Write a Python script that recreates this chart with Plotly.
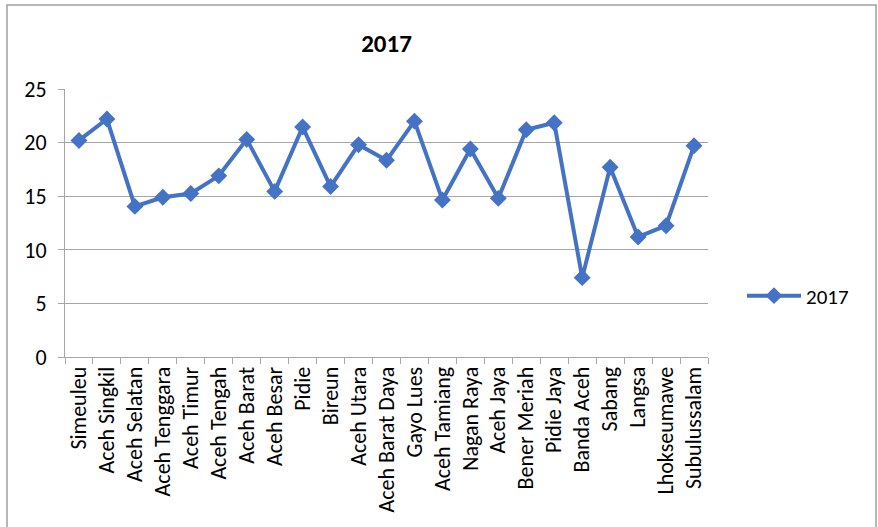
import plotly.graph_objects as go

# Kabupaten/kota in Aceh and their 2017 values
regions = [
    "Simeuleu", "Aceh Singkil", "Aceh Selatan", "Aceh Tenggara", "Aceh Timur",
    "Aceh Tengah", "Aceh Barat", "Aceh Besar", "Pidie", "Bireun", "Aceh Utara",
    "Aceh Barat Daya", "Gayo Lues", "Aceh Tamiang", "Nagan Raya", "Aceh Jaya",
    "Bener Meriah", "Pidie Jaya", "Banda Aceh", "Sabang", "Langsa",
    "Lhokseumawe", "Subulussalam",
]
values_2017 = [
    20.2, 22.2, 14.05, 14.9, 15.25,
    16.9, 20.3, 15.45, 21.45, 15.9, 19.8,
    18.35, 22.0, 14.65, 19.4, 14.8,
    21.2, 21.85, 7.4, 17.7, 11.2,
    12.25, 19.7,
]
y_ticks = [0, 5, 10, 15, 20, 25]

FONT = "Carlito, Lato, sans-serif"
BLUE = "#4472C4"
GRID = "#a6a6a6"

fig = go.Figure()
fig.add_trace(go.Scatter(
    x=regions, y=values_2017, name="2017", mode="lines+markers",
    line=dict(color=BLUE, width=4),
    marker=dict(symbol="diamond", size=13, color=BLUE),
))

W, H = 878, 527
L, R, T, B = 65, 170, 89, 170
pw, ph = W - L - R, H - T - B

def px(xp):
    return (xp - L) / pw

def py(yp):
    return (H - B - yp) / ph

fig.update_layout(
    width=W, height=H,
    margin=dict(l=L, r=R, t=T, b=B),
    paper_bgcolor="white", plot_bgcolor="white",
    font=dict(family=FONT, color="black", size=22),
    title=dict(text="<b>2017</b>", x=0.5, xref="paper", xanchor="center",
               y=1 - 43 / H, yanchor="middle", font=dict(size=25, family=FONT)),
    showlegend=True,
    legend=dict(x=px(742), y=py(296), xanchor="left", yanchor="middle",
                itemwidth=54, font=dict(size=21, family=FONT),
                bgcolor="rgba(0,0,0,0)"),
    shapes=[dict(type="rect", xref="paper", yref="paper",
                 x0=px(7), x1=px(876), y0=py(540), y1=py(5),
                 line=dict(color="#a0a0a0", width=1.5), layer="below")],
)

fig.update_xaxes(
    type="category", range=[-0.5, len(regions) - 0.5],
    tickangle=-90, tickson="boundaries", ticks="outside", ticklen=6,
    tickcolor=GRID, showline=True, linecolor=GRID, linewidth=1,
    showgrid=False, tickfont=dict(size=22, family=FONT),
)
fig.update_yaxes(
    range=[0, 25], tickvals=y_ticks, ticks="outside", ticklen=6,
    ticklabelstandoff=7,
    tickcolor=GRID, showline=True, linecolor=GRID, linewidth=1,
    showgrid=True, gridcolor=GRID, gridwidth=1, zeroline=False,
    tickfont=dict(size=22, family=FONT),
)

fig.write_html("out.html")
